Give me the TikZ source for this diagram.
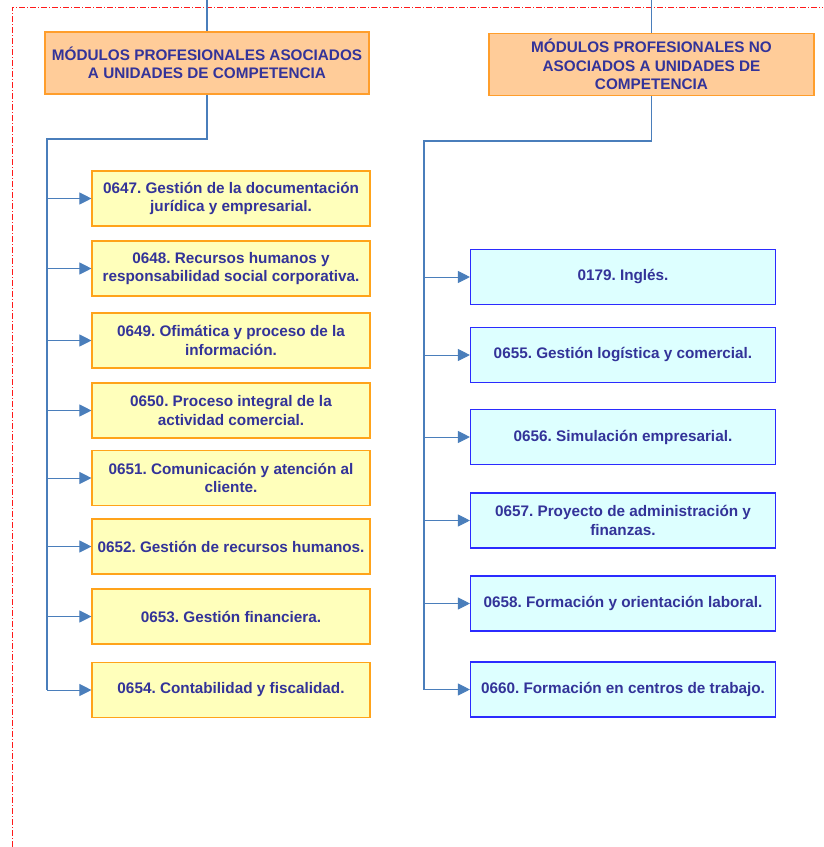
\documentclass[tikz,border=0pt]{standalone}
\usepackage{fontspec}
\setmainfont{Liberation Sans}
\usetikzlibrary{arrows.meta,positioning}
\definecolor{ink}{HTML}{333399}
\definecolor{wire}{HTML}{4A7EBB}
\definecolor{headfill}{HTML}{FFCC99}
\definecolor{headline}{HTML}{FF9E2C}
\definecolor{asocfill}{HTML}{FFFFBB}
\definecolor{asocline}{HTML}{FFA31A}
\definecolor{nofill}{HTML}{DDFFFF}
\definecolor{noline}{HTML}{2B2BFF}
\definecolor{frame}{HTML}{FF1A1A}
\frenchspacing

\begin{document}
\begin{tikzpicture}[
  x=1pt, y=-1pt,
  text=ink,
  box/.style={line width=1.1pt, align=center, inner sep=2pt,
    font=\fontsize{15.3}{18.4}\selectfont\bfseries},
  heading/.style={box, fill=headfill, draw=headline, minimum height=62pt},
  asoc/.style={box, fill=asocfill, draw=asocline, minimum width=278pt, minimum height=55pt},
  noasoc/.style={box, fill=nofill, draw=noline, minimum width=305pt, minimum height=55pt},
  bus/.style={draw=wire, line width=1.8pt},
  arrow/.style={-{Triangle[length=12pt,width=12pt]}, draw=wire, line width=1pt},
  border/.style={draw=frame, line width=.9pt, dash pattern=on 6pt off 2pt on 1pt off 2pt}
]
  \useasboundingbox (0,0) rectangle (823,847);
  \draw[border] (12,847) -- (12,7) -- (823,7);

  % left column
  \node[heading, minimum width=324pt] (hasoc) at (207,63) {
    MÓDULOS PROFESIONALES ASOCIADOS\\
    A UNIDADES DE COMPETENCIA
  };
  \node[asoc] (m0647) at (231,198.5) {0647. Gestión de la documentación\\jurídica y empresarial.};
  \node[asoc] (m0648) at (231,268.5) {0648. Recursos humanos y\\responsabilidad social corporativa.};
  \node[asoc] (m0649) at (231,340.5) {0649. Ofimática y proceso de la\\información.};
  \node[asoc] (m0650) at (231,410.5) {0650. Proceso integral de la\\actividad comercial.};
  \node[asoc] (m0651) at (231,478) {0651. Comunicación y atención al\\cliente.};
  \node[asoc] (m0652) at (231,546.5) {0652. Gestión de recursos humanos.};
  \node[asoc] (m0653) at (231,616.5) {0653. Gestión financiera.};
  \node[asoc] (m0654) at (231,690) {0654. Contabilidad y fiscalidad.};

  % right column
  \node[heading, minimum width=325pt] (hno) at (651.5,64.5) {
    MÓDULOS PROFESIONALES NO\\
    ASOCIADOS A UNIDADES DE\\
    COMPETENCIA
  };
  \node[noasoc] (m0179) at (623,277) {0179. Inglés.};
  \node[noasoc] (m0655) at (623,355) {0655. Gestión logística y comercial.};
  \node[noasoc] (m0656) at (623,437) {0656. Simulación empresarial.};
  \node[noasoc] (m0657) at (623,520.5) {0657. Proyecto de administración y\\finanzas.};
  \node[noasoc] (m0658) at (623,603.5) {0658. Formación y orientación laboral.};
  \node[noasoc] (m0660) at (623,689.5) {0660. Formación en centros de trabajo.};

  % trunks
  \coordinate (ltip) at (207,0);
  \coordinate (rtip) at (651.5,0);
  \coordinate (lbus) at (47,139);
  \coordinate (rbus) at (424,141);
  \draw[draw=wire, line width=1.2pt] (ltip) -- (hasoc.north);
  \draw[draw=wire, line width=1.2pt] (rtip) -- (hno.north);
  \draw[bus] (hasoc.south) |- (lbus) -- (lbus |- m0654.west);
  \draw[bus] (hno.south) |- (rbus) -- (rbus |- m0660.west);

  % branches
  \foreach \m in {m0647,m0648,m0649,m0650,m0651,m0652,m0653,m0654}
    \draw[arrow] (lbus |- \m.west) -- (\m.west);
  \foreach \m in {m0179,m0655,m0656,m0657,m0658,m0660}
    \draw[arrow] (rbus |- \m.west) -- (\m.west);
\end{tikzpicture}
\end{document}
